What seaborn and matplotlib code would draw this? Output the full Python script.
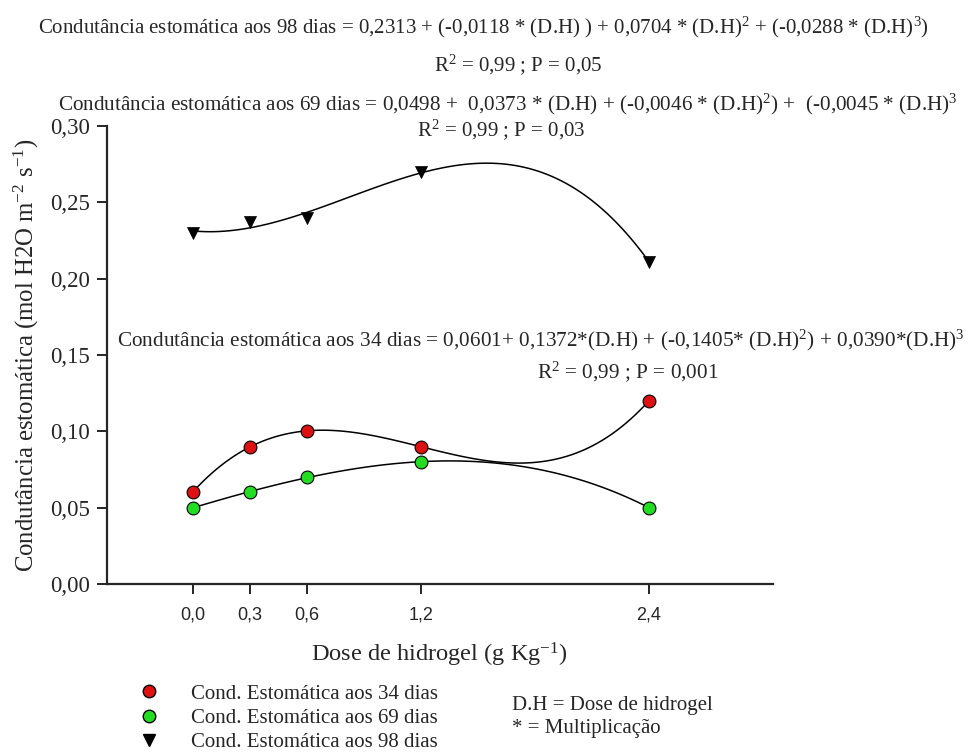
import matplotlib
matplotlib.use("Agg")
import matplotlib.pyplot as plt
import seaborn as sns
import pandas as pd
from matplotlib.lines import Line2D

# ── data ───────────────────────────────────────────────────────────────────
dose = [0.0, 0.3, 0.6, 1.2, 2.4]
cond_34 = [0.06, 0.09, 0.10, 0.09, 0.12]
cond_69 = [0.05, 0.06, 0.07, 0.08, 0.05]
cond_98 = [0.230, 0.237, 0.240, 0.270, 0.211]

xtick_labels = ["0,0", "0,3", "0,6", "1,2", "2,4"]
yticks = [0.0, 0.05, 0.10, 0.15, 0.20, 0.25, 0.30]
ytick_labels = ["0,00", "0,05", "0,10", "0,15", "0,20", "0,25", "0,30"]

series_names = ["Cond. Estomática aos 34 dias",
                "Cond. Estomática aos 69 dias",
                "Cond. Estomática aos 98 dias"]

eq_98 = ("Condutância estomática aos 98 dias = 0,2313 + (-0,0118 * (D.H) ) + 0,0704 * (D.H)$^2$"
         " + (-0,0288 * (D.H)$^3$)")
stat_98 = "R$^2$ = 0,99 ; P = 0,05"
eq_69 = ("Condutância estomática aos 69 dias = 0,0498 +  0,0373 * (D.H) + (-0,0046 * (D.H)$^2$)"
         " +  (-0,0045 * (D.H)$^3$")
stat_69 = "R$^2$ = 0,99 ; P = 0,03"
eq_34 = ("Condutância estomática aos 34 dias = 0,0601+ 0,1372*(D.H) + (-0,1405* (D.H)$^2$)"
         " + 0,0390*(D.H)$^3$")
stat_34 = "R$^2$ = 0,99 ; P = 0,001"

df = pd.DataFrame({"dose": dose, "c34": cond_34, "c69": cond_69, "c98": cond_98})

# ── style ──────────────────────────────────────────────────────────────────
sns.set_style("ticks")
plt.rcParams["font.family"] = ["Liberation Serif", "DejaVu Serif"]
plt.rcParams["mathtext.fontset"] = "custom"
plt.rcParams["mathtext.rm"] = "Liberation Serif"
plt.rcParams["mathtext.it"] = "Liberation Serif"

fig = plt.figure(figsize=(9.66, 7.56), dpi=100)
ax = fig.add_axes([0.1108, 0.2275, 0.689, 0.606])

line_kws = {"color": "black", "linewidth": 1.1}
for col in ["c34", "c69", "c98"]:
    sns.regplot(data=df, x="dose", y=col, order=3, ci=None, scatter=False,
                truncate=True, line_kws=line_kws, ax=ax)

sns.scatterplot(data=df, x="dose", y="c34", color="#dd1111", edgecolor="black",
                linewidth=0.8, s=85, marker="o", ax=ax, zorder=5)
sns.scatterplot(data=df, x="dose", y="c69", color="#22dd22", edgecolor="black",
                linewidth=0.8, s=85, marker="o", ax=ax, zorder=5)
sns.scatterplot(data=df, x="dose", y="c98", color="black", edgecolor="black",
                linewidth=0.5, s=75, marker="v", ax=ax, zorder=5)

ax.set_xlim(-0.45, 3.05)
ax.set_ylim(0, 0.30)
ax.set_xticks(dose)
ax.set_xticklabels(xtick_labels, family="Liberation Sans", fontsize=13)
ax.set_yticks(yticks)
ax.set_yticklabels(ytick_labels, fontsize=16.5)
ax.tick_params(axis="both", direction="out", length=7, width=1.2, color="black")
ax.tick_params(axis="y", pad=5)
ax.tick_params(axis="x", pad=9)
for side in ["left", "bottom"]:
    ax.spines[side].set_linewidth(1.6)
sns.despine(ax=ax)

ax.set_xlabel("Dose de hidrogel (g Kg$^{-1}$)", fontsize=17.6, labelpad=13)
ax.set_ylabel("Condutância estomática (mol H2O m$^{-2}$ s$^{-1}$)", fontsize=17.8, labelpad=7)

# ── regression equations ───────────────────────────────────────────────────
fig.text(0.500, 0.964, eq_98, ha="center", va="center", fontsize=15)
fig.text(0.536, 0.914, stat_98, ha="center", va="center", fontsize=15)
fig.text(0.526, 0.862, eq_69, ha="center", va="center", fontsize=15.2)
fig.text(0.519, 0.828, stat_69, ha="center", va="center", fontsize=15)
fig.text(0.56, 0.550, eq_34, ha="center", va="center", fontsize=15.3)
fig.text(0.65, 0.508, stat_34, ha="center", va="center", fontsize=15.3)

# ── legend & notes ─────────────────────────────────────────────────────────
handles = [
    Line2D([], [], linestyle="none", marker="o", markersize=9,
           markerfacecolor="#dd1111", markeredgecolor="black"),
    Line2D([], [], linestyle="none", marker="o", markersize=9,
           markerfacecolor="#22dd22", markeredgecolor="black"),
    Line2D([], [], linestyle="none", marker="v", markersize=9,
           markerfacecolor="black", markeredgecolor="black"),
]
fig.legend(handles, series_names, loc="upper left", bbox_to_anchor=(0.135, 0.106),
           frameon=False, fontsize=15, handletextpad=1.5, labelspacing=0.22,
           borderaxespad=0, handlelength=1.0)

fig.text(0.530, 0.067, "D.H = Dose de hidrogel", ha="left", va="center", fontsize=15)
fig.text(0.530, 0.037, "* = Multiplicação", ha="left", va="center", fontsize=15)

fig.savefig("out.png", dpi=100)
